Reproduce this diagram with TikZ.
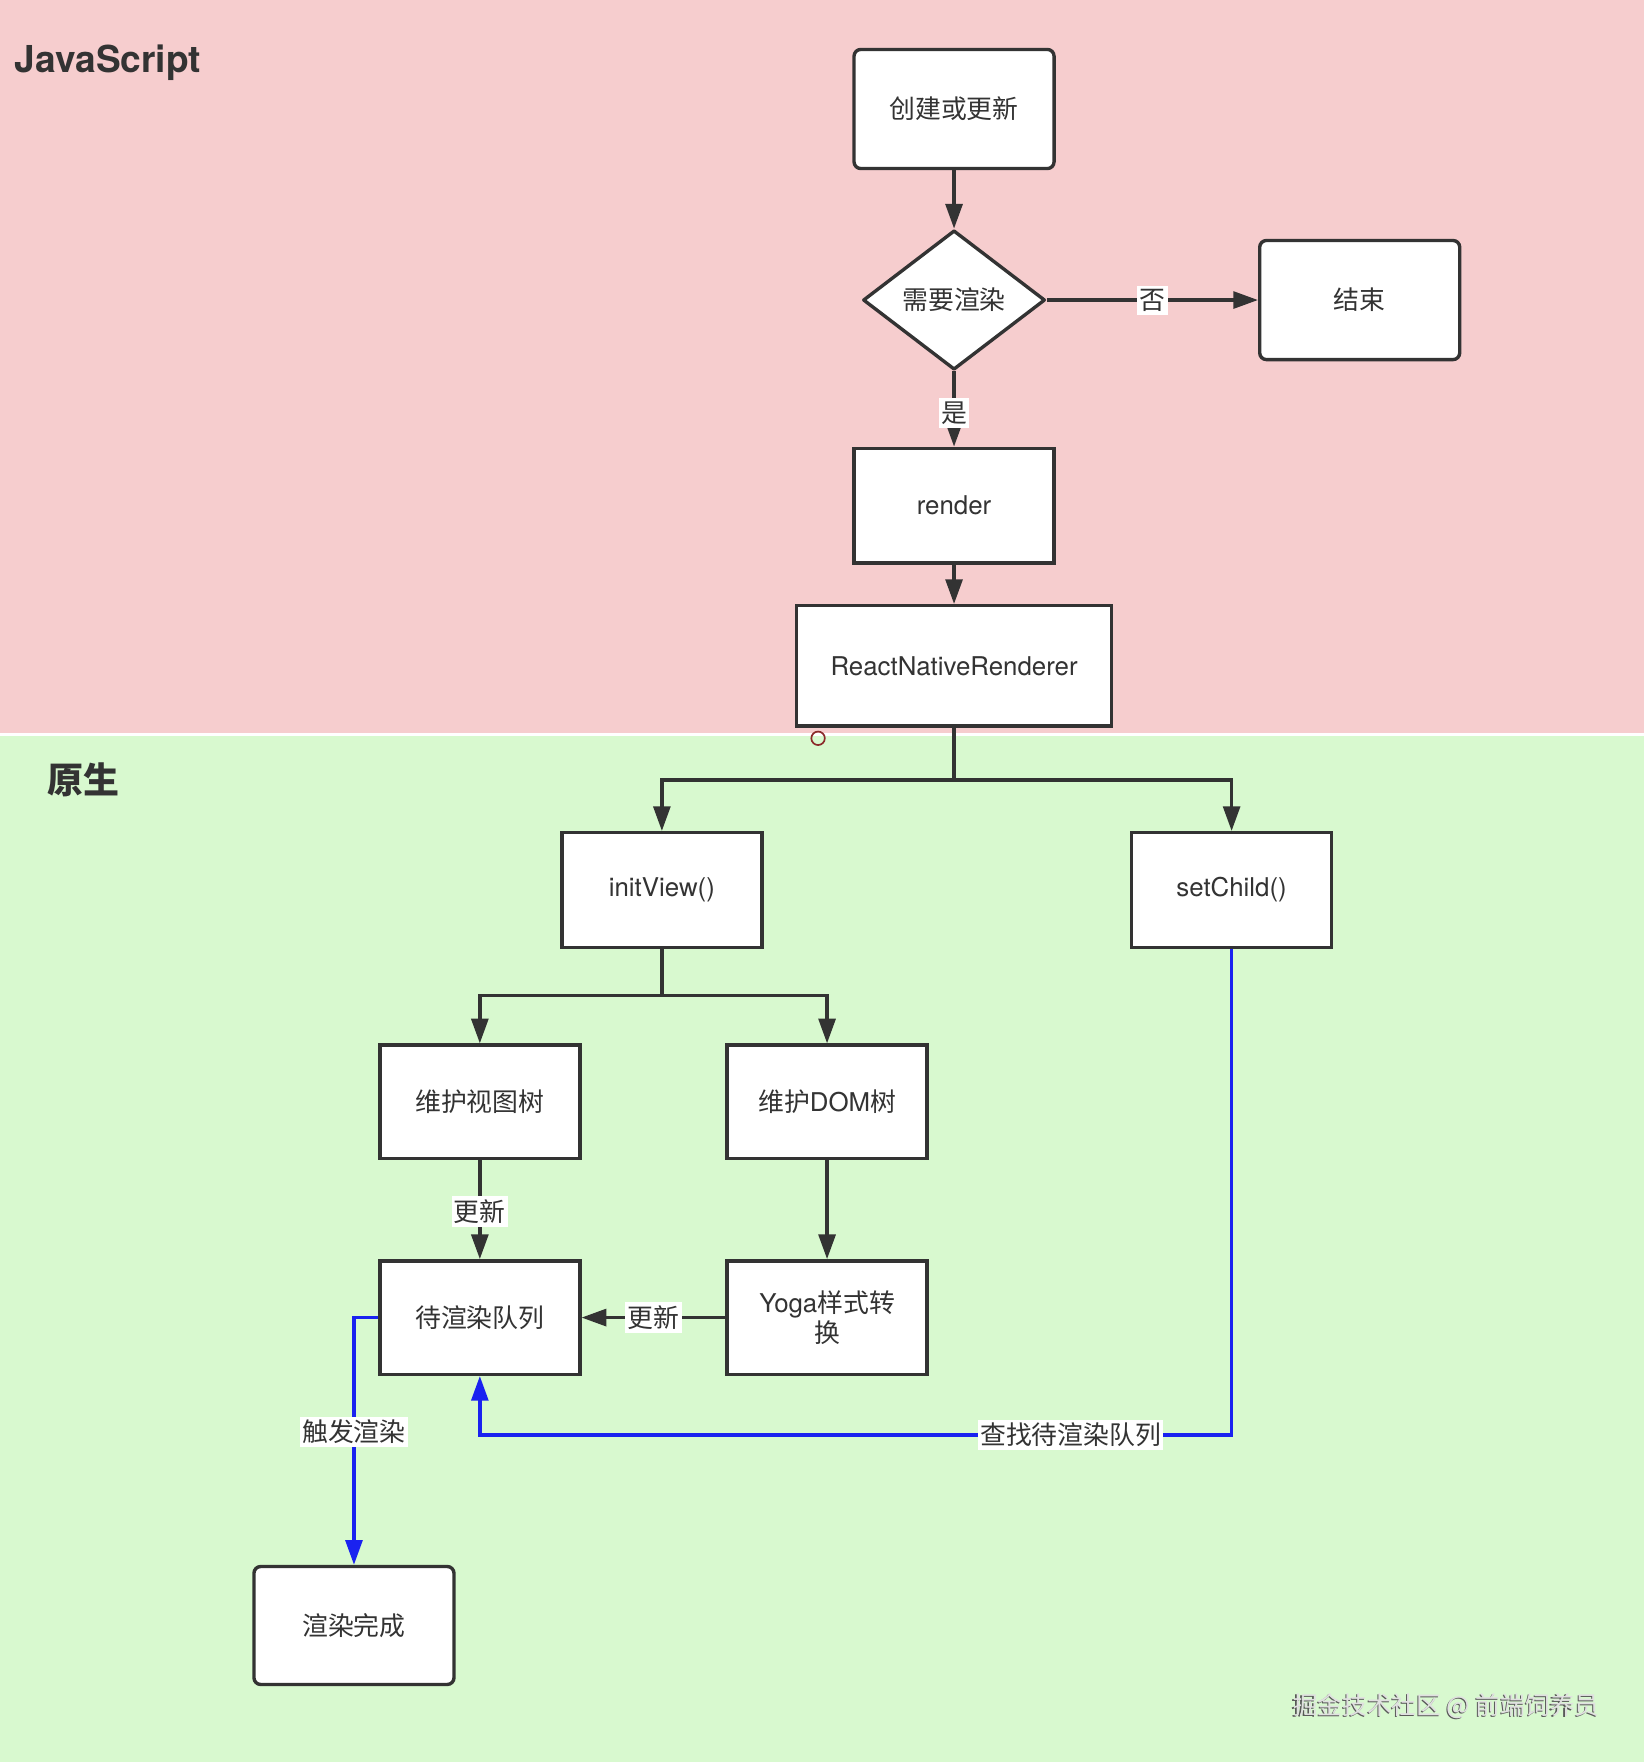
\documentclass[tikz,border=0pt]{standalone}
\usepackage{fontspec}
\setmainfont{TeX Gyre Heros}
\newfontfamily\cjk{Noto Sans CJK SC}
\usetikzlibrary{arrows.meta,shapes.geometric}
\definecolor{pinkbg}{HTML}{F6CDCE}
\definecolor{greenbg}{HTML}{D8F9CF}
\definecolor{ink}{HTML}{333333}
\definecolor{blueln}{HTML}{1A22F0}
\definecolor{circred}{HTML}{8B2A2A}
\begin{document}
\begin{tikzpicture}[x=1pt,y=-1pt,
  box/.style={draw=ink, line width=3pt, fill=white, minimum width=178pt, minimum height=102pt,
    inner sep=0pt, text=ink, font=\fontsize{23}{27}\selectfont, align=center},
  rbox/.style={box, rounded corners=6pt},
  ln/.style={draw=ink, line width=3pt, -{Triangle[length=22pt,width=15pt]}},
  bln/.style={draw=blueln, line width=3pt, -{Triangle[length=22pt,width=15pt]}},
  lbl/.style={fill=white, text=ink, inner xsep=2pt, inner ysep=3pt, font=\cjk\fontsize{23}{27}\selectfont},
  title/.style={anchor=west, inner sep=0pt, text=ink}
]
\useasboundingbox (0,0) rectangle (1463,1568);
\fill[pinkbg] (0,0) rectangle (1463,652);
\fill[white] (0,652) rectangle (1463,655);
\fill[greenbg] (0,655) rectangle (1463,1568);

% titles
\node[title, font=\bfseries\fontsize{33}{39}\selectfont] (js) at (13,56) {JavaScript};
\node[title, font=\cjk\bfseries\fontsize{32}{38}\selectfont] (ys) at (42,694) {原生};

% nodes
\node[rbox, minimum height=106pt] (create) at (849,97) {{\cjk 创建或更新}};
\node[draw=ink, line width=3pt, fill=white, shape=diamond, minimum width=162pt, minimum height=124pt,
  inner sep=0pt, line join=round, text=ink, font=\cjk\fontsize{23}{27}\selectfont] (decide) at (849,267) {需要渲染};
\node[rbox, minimum height=106pt] (end) at (1210,267) {{\cjk 结束}};
\node[box] (render) at (849,450) {render};
\node[box, minimum width=280pt, minimum height=107pt] (rnr) at (849,592.5) {ReactNativeRenderer};
\node[box] (initView) at (589,792) {initView()};
\node[box] (setChild) at (1096,792) {setChild()};
\node[box, minimum height=101pt] (viewtree) at (427,980.5) {{\cjk 维护视图树}};
\node[box, minimum height=101pt] (domtree) at (736,980.5) {{\cjk 维护}DOM{\cjk 树}};
\node[box, minimum height=101pt] (queue) at (427,1172.5) {{\cjk 待渲染队列}};
\node[box, minimum height=101pt] (yoga) at (736,1172.5) {Yoga{\cjk 样式转}\\{\cjk 换}};
\node[rbox, minimum height=105pt] (done) at (315,1446.5) {{\cjk 渲染完成}};

% junctions
\coordinate (j1) at (849,694);
\coordinate (j2) at (589,886);
\coordinate (j3) at (1096,1277);
\coordinate (j4) at (427,1277);
\coordinate (j5) at (315,1172.5);

% connectors
\draw[ln] (create) -- (decide);
\draw[ln] (decide.east) -- node[lbl] {否} (end.west);
\draw[ln] (decide.south) -- node[lbl, pos=0.55] {是} (render.north);
\draw[ln] (render) -- (rnr);
\draw[ln] (rnr.south) -- (j1) -| (initView.north);
\draw[ln] (j1) -| (setChild.north);
\draw[ln] (initView.south) -- (j2) -| (viewtree.north);
\draw[ln] (j2) -| (domtree.north);
\draw[ln] (viewtree) -- node[lbl, pos=0.52] {更新} (queue);
\draw[ln] (domtree) -- (yoga);
\draw[ln] (yoga.west) -- node[lbl, pos=0.5] {更新} (queue.east);
\draw[bln] (setChild.south) -- (j3) -- node[lbl, pos=0.214] {查找待渲染队列} (j4) -- (queue.south);
\draw[bln] (queue.west) -- (j5) -- node[lbl, pos=0.463] {触发渲染} (done.north);

% small marker
\draw[circred, line width=1.5pt] (728,657) circle[radius=6];

% watermark
\node[text=black!65, font=\cjk\fontsize{22}{26}\selectfont, inner sep=0pt] (wms) at (1286,1519.5) {掘金技术社区 @ 前端饲养员};
\node[text=black!12, font=\cjk\fontsize{22}{26}\selectfont, inner sep=0pt] (wm) at (1287,1518) {掘金技术社区 @ 前端饲养员};
\end{tikzpicture}
\end{document}
